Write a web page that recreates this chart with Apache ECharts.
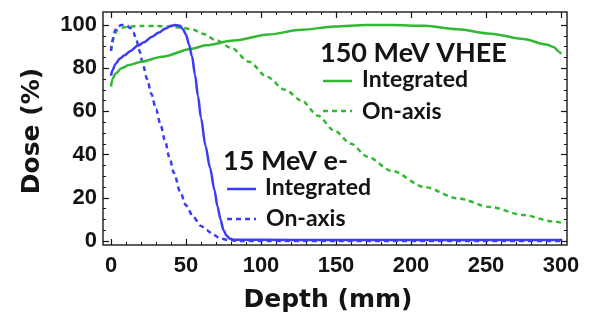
<!DOCTYPE html>
<html>
<head>
<meta charset="utf-8">
<script src="https://cdn.jsdelivr.net/npm/echarts@6/dist/echarts.min.js"></script>
<style>
  html, body { margin: 0; padding: 0; background: #ffffff; }
  #chart { width: 590px; height: 320px; }
</style>
</head>
<body>
<div id="chart"></div>
<script>
// Depth-dose curves: depth in mm, dose in % of maximum
const depthTicks = [0, 50, 100, 150, 200, 250, 300];
const doseTicks = [0, 20, 40, 60, 80, 100];

// 150 MeV VHEE beam
const vheeIntegrated = [
  [0, 71.5], [1, 75], [3, 77.5], [7, 80], [12, 81.5], [20, 83], [34, 85.3],
  [54, 89], [63, 90.6], [82, 92.8], [105, 95.6], [127, 97.8], [149, 99.3],
  [170, 100], [187, 100], [209, 99.6], [231, 98], [253, 96], [275, 93.5],
  [290, 91], [295, 89.8], [299, 87.5], [300, 86.5]
];
const vheeOnAxis = [
  [0, 88], [1, 92], [2, 95], [4, 97.5], [7, 98.7], [12, 99.3], [20, 99.5],
  [30, 99.5], [40, 99.3], [48, 98.7], [55, 97.8], [61, 96], [70, 93],
  [80, 89.5], [92, 83], [104, 76], [116, 70], [127, 65], [138, 58],
  [149, 51], [160, 45], [171, 39], [187, 32.5], [209, 25], [231, 19.8],
  [253, 15.7], [275, 12], [295, 9], [300, 8.5]
];

// 15 MeV electron beam
const electronIntegrated = [
  [0, 76.5], [1, 79], [3, 82], [6, 84.5], [9, 86], [13, 88], [18, 90.5],
  [22, 92], [27, 94.5], [32, 96.5], [36, 98.3], [40, 99.6], [43, 100],
  [46, 99.6], [48, 98], [50, 95.5], [52, 91], [54, 85.5], [56, 77],
  [58, 67], [60, 57], [63, 44], [66, 34], [69, 23.5], [71, 16], [73, 10],
  [75, 5], [77, 2.5], [79, 1.2], [82, 0.6], [120, 0.5], [300, 0.5]
];
const electronOnAxis = [
  [0, 88], [1, 93], [2, 96.5], [4, 99], [7, 100], [10, 100], [13, 98.5],
  [15, 96.5], [17, 93], [19, 88], [21.5, 81], [24, 75], [27, 68], [30, 61],
  [33, 54], [36, 46.5], [39, 38.5], [42, 31.5], [46, 23], [50, 16.5],
  [55, 11], [60, 7], [64, 5], [68, 3], [73, 1.2], [78, 0.4], [85, 0],
  [300, 0]
];

const BLUE = '#3c3cf6';
const GREEN = '#33b833';
const INK = '#141414';
const TICK_FONT = 'Liberation Sans';
const TITLE_FONT = 'DejaVu Sans';
const KEY_FONT = 'Lato';

function tickAxis(extra) {
  return Object.assign({
    type: 'value',
    gridIndex: 1,
    axisLine: { show: false, onZero: false },
    axisTick: { show: true, inside: true, length: 6, lineStyle: { color: INK, width: 1.2 } },
    minorTick: { show: true, length: 3, lineStyle: { color: INK, width: 1 } },
    splitLine: { show: false },
    minorSplitLine: { show: false }
  }, extra);
}

const labelStyle = { color: INK, fontFamily: TICK_FONT, fontWeight: 'bold', fontSize: 22 };

const chart = echarts.init(document.getElementById('chart'), null, { renderer: 'canvas' });

function keyLine(x1, x2, y, color, dashed) {
  return {
    type: 'line',
    shape: { x1: x1, y1: y, x2: x2, y2: y },
    style: { stroke: color, lineWidth: 2.5, lineDash: dashed ? [5, 4] : null }
  };
}
function keyText(x, y, text, size) {
  return {
    type: 'text',
    x: x, y: y,
    style: {
      text: text, fill: INK, font: 'bold ' + size + 'px ' + KEY_FONT,
      textAlign: 'left', textVerticalAlign: 'middle'
    }
  };
}

function lineSeries(name, data, color, dashed) {
  return {
    name: name,
    type: 'line',
    xAxisIndex: 1,
    yAxisIndex: 1,
    data: data,
    showSymbol: false,
    smooth: 0.3,
    smoothMonotone: 'x',
    clip: false,
    lineStyle: { color: color, width: 2.5, type: dashed ? [5, 4] : 'solid' },
    itemStyle: { color: color },
    z: dashed ? 3 : 4
  };
}

chart.setOption({
  animation: false,
  backgroundColor: '#ffffff',
  grid: [
    // outer frame
    { left: 103, top: 12, width: 464, height: 233, show: true,
      borderColor: '#2a2a2a', borderWidth: 1.5, backgroundColor: 'transparent' },
    // data area: 0–300 mm, 0–100 %
    { left: 111, top: 25, width: 450, height: 216 }
  ],
  xAxis: [
    { type: 'value', gridIndex: 0, show: false, min: 0, max: 1 },
    tickAxis({
      position: 'bottom', offset: 4, min: depthTicks[0], max: depthTicks[depthTicks.length - 1],
      interval: 50, minorTick: { show: true, splitNumber: 5, length: 3, lineStyle: { color: INK, width: 1 } },
      axisLabel: Object.assign({ margin: 10 }, labelStyle)
    }),
    tickAxis({
      position: 'top', offset: 13, min: depthTicks[0], max: depthTicks[depthTicks.length - 1],
      interval: 50, minorTick: { show: true, splitNumber: 5, length: 3, lineStyle: { color: INK, width: 1 } },
      axisLabel: { show: false }
    })
  ],
  yAxis: [
    { type: 'value', gridIndex: 0, show: false, min: 0, max: 1 },
    tickAxis({
      position: 'left', offset: 8, min: doseTicks[0], max: doseTicks[doseTicks.length - 1],
      interval: 20, minorTick: { show: true, splitNumber: 4, length: 3, lineStyle: { color: INK, width: 1 } },
      axisLabel: Object.assign({ margin: 6 }, labelStyle)
    }),
    tickAxis({
      position: 'right', offset: 6, min: doseTicks[0], max: doseTicks[doseTicks.length - 1],
      interval: 20, minorTick: { show: true, splitNumber: 4, length: 3, lineStyle: { color: INK, width: 1 } },
      axisLabel: { show: false }
    })
  ],
  series: [
    lineSeries('150 MeV VHEE integrated', vheeIntegrated, GREEN, false),
    lineSeries('150 MeV VHEE on-axis', vheeOnAxis, GREEN, true),
    lineSeries('15 MeV e- integrated', electronIntegrated, BLUE, false),
    lineSeries('15 MeV e- on-axis', electronOnAxis, BLUE, true)
  ],
  graphic: [
    // axis titles
    { type: 'text', x: 328, y: 300,
      style: { text: 'Depth (mm)', fill: INK, font: 'bold 25px ' + TITLE_FONT,
               textAlign: 'center', textVerticalAlign: 'middle' } },
    { type: 'text', x: 32, y: 131, rotation: Math.PI / 2,
      style: { text: 'Dose (%)', fill: INK, font: 'bold 25px ' + TITLE_FONT,
               textAlign: 'center', textVerticalAlign: 'middle' } },
    // key: 150 MeV VHEE
    keyText(320, 53, '150 MeV VHEE', 27),
    keyLine(323, 352, 81, GREEN, false),
    keyText(362, 80, 'Integrated', 23),
    keyLine(323, 352, 111, GREEN, true),
    keyText(362, 112, 'On-axis', 23),
    // key: 15 MeV e-
    keyText(223, 161, '15 MeV e-', 27),
    keyLine(227, 256, 189, BLUE, false),
    keyText(265, 188, 'Integrated', 23),
    keyLine(227, 256, 219, BLUE, true),
    keyText(266, 219, 'On-axis', 23)
  ]
});
</script>
</body>
</html>
